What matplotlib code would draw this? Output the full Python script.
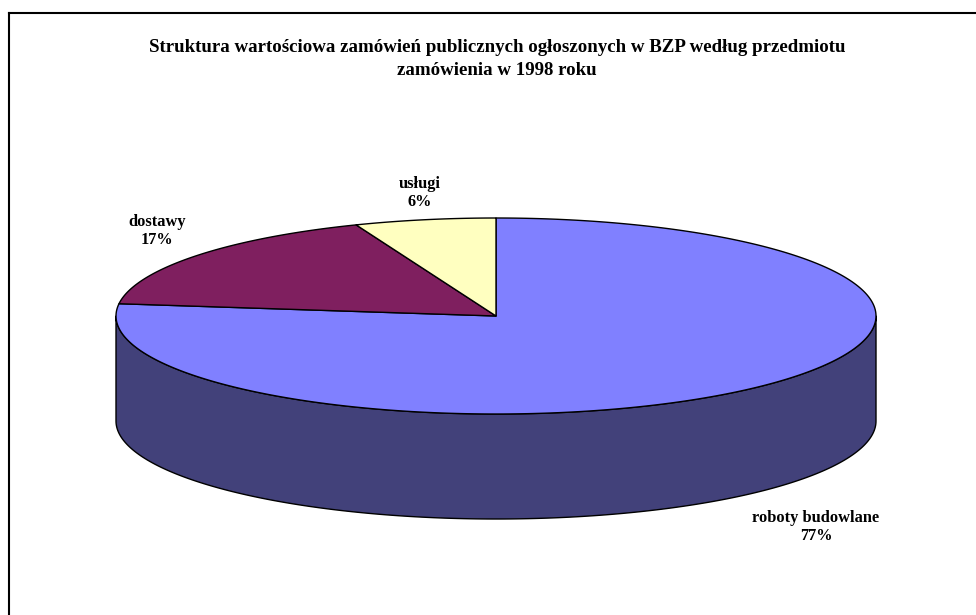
import numpy as np
import matplotlib
matplotlib.use("Agg")
import matplotlib.pyplot as plt
from matplotlib.patches import Polygon

# ---- data ----
title = "Struktura wartościowa zamówień publicznych ogłoszonych w BZP według przedmiotu\nzamówienia w 1998 roku"
categories = ["roboty budowlane", "dostawy", "usługi"]
values = [77, 17, 6]
top_colors = ["#8080FF", "#7F1F5F", "#FFFFC0"]
side_colors = ["#42417A", "#40102F", "#80805F"]

W, H = 976, 615
fig = plt.figure(figsize=(W / 100, H / 100), dpi=100)
ax = fig.add_axes([0, 0, 1, 1])
ax.set_xlim(0, W)
ax.set_ylim(H, 0)
ax.axis("off")

cx, cy, rx, ry, depth = 496, 316, 380, 98, 105

def pt(theta_deg, dy=0.0):
    t = np.radians(theta_deg)
    return cx + rx * np.sin(t), cy - ry * np.cos(t) + dy

fracs = np.array(values, dtype=float) / np.sum(values)
starts = np.concatenate([[0], np.cumsum(fracs)[:-1]]) * 360
ends = np.cumsum(fracs) * 360

# side walls (front half: theta in [90, 270])
for s, e, sc in zip(starts, ends, side_colors):
    a0, a1 = max(s, 90), min(e, 270)
    if a1 <= a0:
        continue
    th = np.linspace(a0, a1, 200)
    upper = [pt(t) for t in th]
    lower = [pt(t, depth) for t in th[::-1]]
    ax.add_patch(Polygon(upper + lower, closed=True, facecolor=sc,
                         edgecolor="black", linewidth=1.0, joinstyle="round"))

# top faces
for s, e, tc in zip(starts, ends, top_colors):
    th = np.linspace(s, e, 300)
    verts = [(cx, cy)] + [pt(t) for t in th]
    ax.add_patch(Polygon(verts, closed=True, facecolor=tc,
                         edgecolor="black", linewidth=1.0, joinstyle="round"))

# labels
label_pos = [(816, 527), (157, 231), (420, 193)]
for cat, v, (lx, ly) in zip(categories, values, label_pos):
    ax.text(lx, ly, f"{cat}\n{v}%", ha="center", va="center",
            family="Liberation Serif", fontweight="bold", fontsize=11.8,
            linespacing=1.12)

ax.text(497, 59, title, ha="center", va="center", family="Liberation Serif",
        fontweight="bold", fontsize=13.6, linespacing=1.42)

# frame (only top and left edges visible)
ax.plot([9, 9], [H + 5, 12.5], color="black", linewidth=1.5, solid_capstyle="projecting")
ax.plot([9, W + 5], [12.5, 12.5], color="black", linewidth=1.5, solid_capstyle="projecting")

fig.savefig("out.png", dpi=100, facecolor="white")
